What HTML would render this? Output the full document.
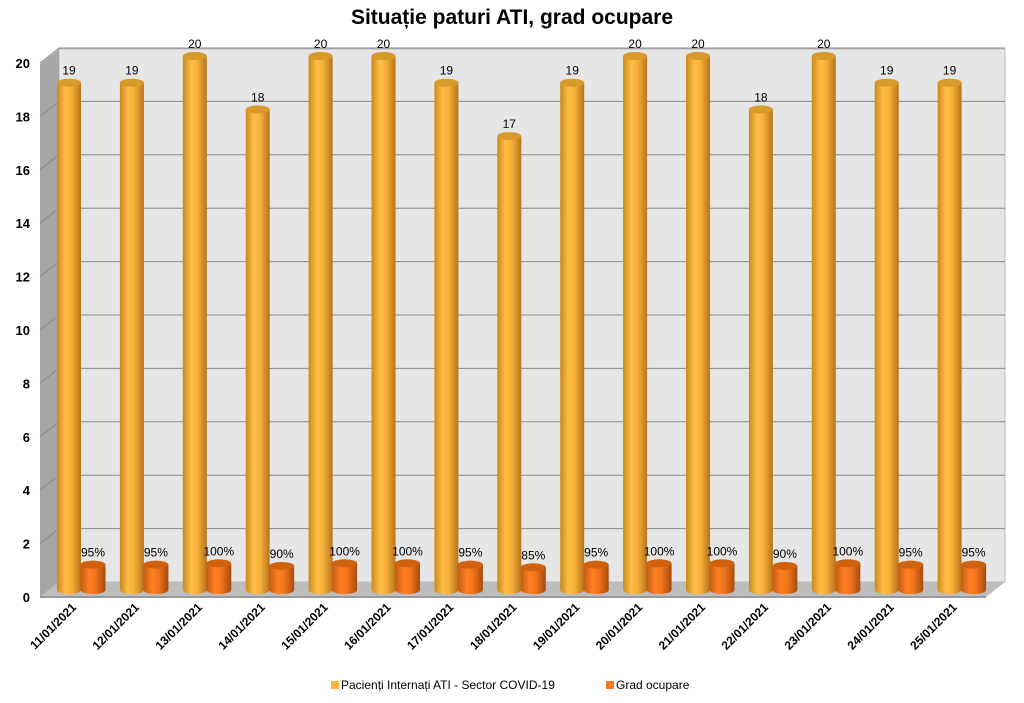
<!DOCTYPE html>
<html><head><meta charset="utf-8"><style>
body{margin:0;background:#fff;font-family:"Liberation Sans",sans-serif}
</style></head><body>
<svg width="1024" height="698" xmlns="http://www.w3.org/2000/svg">
<defs>
<linearGradient id="gy" x1="0" x2="1"><stop offset="0" stop-color="#c98a1c"/><stop offset="0.35" stop-color="#ffbe45"/><stop offset="0.6" stop-color="#f7b03a"/><stop offset="1" stop-color="#b7741a"/></linearGradient>
<linearGradient id="go" x1="0" x2="1"><stop offset="0" stop-color="#c45a12"/><stop offset="0.35" stop-color="#ff7f22"/><stop offset="0.6" stop-color="#f2751c"/><stop offset="1" stop-color="#a84a0c"/></linearGradient>
</defs>
<text x="512" y="24" text-anchor="middle" font-size="21" font-weight="bold">Situație paturi ATI, grad ocupare</text>
<polygon points="59,49 1005,49 1005,582 59,582" fill="#e6e6e6" stroke="#bbb"/>
<polygon points="40,64 59,49 59,582 40,597" fill="#a6a6a6"/>
<polygon points="40,597 59,582 1005,582 986,597" fill="#bdbdbd"/>
<line x1="40" y1="597" x2="986" y2="597" stroke="#999" stroke-width="2"/>
<g id="grid"></g><g id="bars"></g><g id="labels"></g>
<g>
<rect x="331" y="681" width="8" height="8" fill="#ffb43c"/>
<text x="341" y="689" font-size="12">Pacienți Internați ATI - Sector COVID-19</text>
<rect x="606" y="681" width="8" height="8" fill="#f57a20"/>
<text x="616" y="689" font-size="12">Grad ocupare</text>
</g>
</svg>
<script>
const categories=["11/01/2021","12/01/2021","13/01/2021","14/01/2021","15/01/2021","16/01/2021","17/01/2021","18/01/2021","19/01/2021","20/01/2021","21/01/2021","22/01/2021","23/01/2021","24/01/2021","25/01/2021"];
const patients=[19,19,20,18,20,20,19,17,19,20,20,18,20,19,19];
const occupancy=[95,95,100,90,100,100,95,85,95,100,100,90,100,95,95];
const yTicks=[0,2,4,6,8,10,12,14,16,18,20];
const NS="http://www.w3.org/2000/svg";
const S=26.7;
function yFront(v){return 597-v*S;}
function yBar(v){return 590-v*S;}
function xCat(i){return 69+i*62.9;}
function mk(t,a,p){const e=document.createElementNS(NS,t);for(const k in a)e.setAttribute(k,a[k]);p.appendChild(e);return e;}
const grid=document.getElementById('grid'),bars=document.getElementById('bars'),labels=document.getElementById('labels');
yTicks.forEach(v=>{
  const y=yFront(v);
  if(v>0){
    const g=mk('polyline',{points:`40,${y} 59,${y-15} 1005,${y-15}`,fill:'none',stroke:'#888','stroke-width':1},grid);
    
    
  }
  const t=mk('text',{x:30,y:y+5,'text-anchor':'end','font-size':13,'font-weight':'bold'},labels);
  t.textContent=v;
  
  
});
function cyl(cx,w,v,fill,cap,name,lbl){
  const g=mk('g',{},bars);
  
  
  const b=590,top=yBar(v),ry=4;
  mk('path',{d:`M${cx-w/2},${top} L${cx-w/2},${b} A${w/2},${ry} 0 0 0 ${cx+w/2},${b} L${cx+w/2},${top} Z`,fill:fill},g);
  mk('ellipse',{cx:cx,cy:top,rx:w/2,ry:ry,fill:cap},g);
  const t=mk('text',{x:cx,y:top-8,'text-anchor':'middle','font-size':12},labels);
  t.textContent=lbl;
  
  
}
categories.forEach((c,i)=>{
  const x=xCat(i);
  cyl(x,24,patients[i],'url(#gy)','#d99a2c','bar-pacienti-'+(i+1),String(patients[i]));
  cyl(x+24,25,occupancy[i]/100,'url(#go)','#d0620f','bar-grad-'+(i+1),occupancy[i]+'%');
  const t=mk('text',{x:x+8,y:608,'text-anchor':'end','font-size':12,'font-weight':'bold',transform:`rotate(-45 ${x+8} 608)`},labels);
  t.textContent=c;
  
  
});
</script>
</body></html>
